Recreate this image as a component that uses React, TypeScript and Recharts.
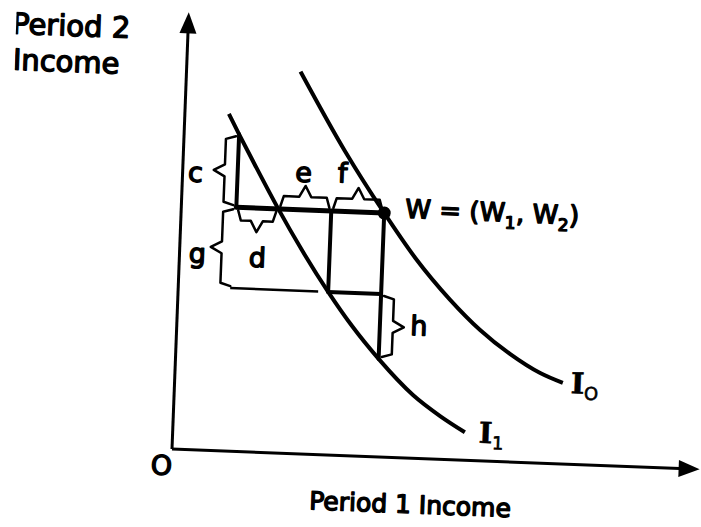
import { LineChart, Line, XAxis, YAxis, ReferenceLine, ReferenceDot } from 'recharts'

// axis extents (income units)
const X_MAX = 528
const Y_MAX = 437

// endowment W = (W1, W2)
const W1 = 203
const W2 = 244

// indifference curves, period 1 income vs period 2 income
const I0_CURVE = [
  { x: 114, y: 382 }, { x: 161, y: 305 }, { x: 203, y: 244 }, { x: 236, y: 200 },
  { x: 272, y: 160 }, { x: 303, y: 131 }, { x: 334, y: 108 }, { x: 365, y: 90 },
  { x: 388, y: 81 },
]
const I1_CURVE = [
  { x: 44, y: 337 }, { x: 55, y: 317 }, { x: 72, y: 287 }, { x: 97, y: 244 },
  { x: 122, y: 204 }, { x: 150, y: 163 }, { x: 175, y: 130 }, { x: 203, y: 98 },
  { x: 239, y: 63 }, { x: 267, y: 43 }, { x: 292, y: 28 },
]

// construction lines between the two curves
const X_LEFT = 55
const X_CROSS = 97
const X_MID = 150
const Y_TOP = 317
const Y_MID = 163
const Y_LOW = 98
const G_ARM_END = 140

const ENDOWMENT_LINE = [{ x: X_LEFT, y: W2 }, { x: W1, y: W2 }]
const C_LINE = [{ x: X_LEFT, y: W2 }, { x: X_LEFT, y: Y_TOP }]
const MID_LINE = [{ x: X_MID, y: W2 }, { x: X_MID, y: Y_MID }]
const LOW_LINE = [{ x: X_MID, y: Y_MID }, { x: W1, y: Y_MID }]
const RIGHT_LINE = [{ x: W1, y: W2 }, { x: W1, y: Y_LOW }]

type Side = 'left' | 'right' | 'up' | 'down'
const BRACES: { key: string; from: [number, number]; to: [number, number]; side: Side }[] = [
  { key: 'c', from: [X_LEFT, W2], to: [X_LEFT, Y_TOP], side: 'left' },
  { key: 'd', from: [X_LEFT, W2], to: [X_CROSS, W2], side: 'down' },
  { key: 'e', from: [X_CROSS, W2], to: [X_MID, W2], side: 'up' },
  { key: 'f', from: [X_MID, W2], to: [W1, W2], side: 'up' },
  { key: 'g', from: [X_LEFT, W2], to: [X_LEFT, Y_MID], side: 'left' },
  { key: 'h', from: [W1, Y_MID], to: [W1, Y_LOW], side: 'right' },
]

const INK = '#000'
const SANS = 'DejaVu Sans'
const SERIF = 'DejaVu Serif'

const DIRS: Record<Side, [number, number]> = {
  left: [-1, 0], right: [1, 0], up: [0, -1], down: [0, 1],
}

const braceShape = (side: Side) => (p: any) => {
  const { x1, y1, x2, y2 } = p
  const len = Math.hypot(x2 - x1, y2 - y1)
  const tx = (x2 - x1) / len
  const ty = (y2 - y1) / len
  const [nx, ny] = DIRS[side]
  const mx = (x1 + x2) / 2
  const my = (y1 + y2) / 2
  const o1 = 13, o2 = 24, w = 6, gap = 3
  const pts = [
    [x1 + nx * gap + tx * 2, y1 + ny * gap + ty * 2],
    [x1 + nx * o1 + tx * 5, y1 + ny * o1 + ty * 5],
    [mx - tx * w + nx * o1, my - ty * w + ny * o1],
    [mx + nx * o2, my + ny * o2],
    [mx + tx * w + nx * o1, my + ty * w + ny * o1],
    [x2 + nx * o1 - tx * 5, y2 + ny * o1 - ty * 5],
    [x2 + nx * gap - tx * 2, y2 + ny * gap - ty * 2],
  ]
  return (
    <polyline
      points={pts.map((q) => q.join(',')).join(' ')}
      fill="none"
      stroke={INK}
      strokeWidth={2.5}
      strokeLinejoin="round"
      strokeLinecap="round"
    />
  )
}

const arrowShape = (p: any) => {
  const { x1, y1, x2, y2 } = p
  const len = Math.hypot(x2 - x1, y2 - y1)
  const ux = (x2 - x1) / len
  const uy = (y2 - y1) / len
  const head = 21, half = 8.5
  const bx = x2 - ux * head
  const by = y2 - uy * head
  return (
    <g>
      <line x1={x1} y1={y1} x2={bx + ux} y2={by + uy} stroke={INK} strokeWidth={3} />
      <polygon
        points={`${x2},${y2} ${bx - uy * half},${by + ux * half} ${bx + uy * half},${by - ux * half}`}
        fill={INK}
      />
    </g>
  )
}

// regular face with an outline gives the medium weight of the lettering
const textStyle = {
  fontFamily: SANS, fontWeight: 400, fontSize: 27, fill: INK,
  stroke: INK, strokeWidth: 1.4, strokeLinejoin: 'round' as const,
}

// text annotations, placed in chart units
const LABELS: { x: number; y: number; render: (cx: number, cy: number) => any }[] = [
  { x: -176, y: 409, render: (cx, cy) => <text x={cx} y={cy} style={{ ...textStyle, fontSize: 29 }}>Period 2</text> },
  { x: -174, y: 373, render: (cx, cy) => <text x={cx} y={cy} style={{ ...textStyle, fontSize: 29 }}>Income</text> },
  { x: 240, y: -55, render: (cx, cy) => <text x={cx} y={cy} textAnchor="middle" style={{ ...textStyle, fontSize: 25 }}>Period 1 Income</text> },
  { x: -10, y: -26, render: (cx, cy) => <text x={cx} y={cy} textAnchor="middle" style={textStyle}>O</text> },
  { x: 13, y: 268, render: (cx, cy) => <text x={cx} y={cy} textAnchor="middle" style={textStyle}>c</text> },
  { x: 78, y: 185, render: (cx, cy) => <text x={cx} y={cy} textAnchor="middle" style={textStyle}>d</text> },
  { x: 121, y: 272, render: (cx, cy) => <text x={cx} y={cy} textAnchor="middle" style={textStyle}>e</text> },
  { x: 160, y: 273, render: (cx, cy) => <text x={cx} y={cy} textAnchor="middle" style={textStyle}>f</text> },
  { x: 18, y: 187, render: (cx, cy) => <text x={cx} y={cy} textAnchor="middle" style={textStyle}>g</text> },
  { x: 242, y: 123, render: (cx, cy) => <text x={cx} y={cy} textAnchor="middle" style={textStyle}>h</text> },
  {
    x: 224, y: 240, render: (cx, cy) => (
      <text x={cx} y={cy} style={{ ...textStyle, fontSize: 26 }}>
        <tspan>W = (W</tspan>
        <tspan dy={7} fontSize={17}>1</tspan>
        <tspan dy={-7}>, W</tspan>
        <tspan dy={7} fontSize={17}>2</tspan>
        <tspan dy={-7}>)</tspan>
      </text>
    ),
  },
  {
    x: 396, y: 71, render: (cx, cy) => (
      <text x={cx} y={cy} style={{ ...textStyle, fontFamily: SERIF, fontWeight: 700, fontSize: 29, strokeWidth: 0.6 }}>
        <tspan>I</tspan>
        <tspan dy={6} fontFamily={SANS} fontWeight={400} fontSize={18}>O</tspan>
      </text>
    ),
  },
  {
    x: 306, y: 18, render: (cx, cy) => (
      <text x={cx} y={cy} style={{ ...textStyle, fontFamily: SERIF, fontWeight: 700, fontSize: 29, strokeWidth: 0.6 }}>
        <tspan>I</tspan>
        <tspan dy={6} fontFamily={SANS} fontWeight={400} fontSize={18}>1</tspan>
      </text>
    ),
  },
]

const segment = (pts: { x: number; y: number }[], width: number, key: string) => (
  <Line
    key={key}
    data={pts}
    dataKey="y"
    type="linear"
    stroke={INK}
    strokeWidth={width}
    strokeLinecap="round"
    dot={false}
    isAnimationActive={false}
  />
)

export default function App() {
  return (
    <div
      style={{
        position: 'absolute',
        left: 0,
        top: 0,
        width: 701,
        height: 527,
        background: '#fff',
        transform: 'rotate(2.2deg)',
        transformOrigin: '172px 449px',
      }}
    >
      <LineChart width={701} height={527} margin={{ top: 12, right: 1, bottom: 78, left: 172 }}>
        <XAxis dataKey="x" type="number" domain={[0, X_MAX]} hide />
        <YAxis type="number" domain={[0, Y_MAX]} hide />

        <ReferenceLine segment={[{ x: 0, y: 0 }, { x: X_MAX, y: 0 }]} shape={arrowShape} ifOverflow="visible" />
        <ReferenceLine segment={[{ x: 0, y: 0 }, { x: 0, y: Y_MAX }]} shape={arrowShape} ifOverflow="visible" />

        <Line data={I0_CURVE} dataKey="y" type="monotone" stroke={INK} strokeWidth={4}
          dot={false} isAnimationActive={false} />
        <Line data={I1_CURVE} dataKey="y" type="monotone" stroke={INK} strokeWidth={4}
          dot={false} isAnimationActive={false} />

        {segment(ENDOWMENT_LINE, 5, 'w')}
        {segment(C_LINE, 4, 'c')}
        {segment(MID_LINE, 4, 'm')}
        {segment(LOW_LINE, 4, 'l')}
        {segment(RIGHT_LINE, 4, 'r')}

        {BRACES.map((b) => (
          <ReferenceLine
            key={b.key}
            segment={[{ x: b.from[0], y: b.from[1] }, { x: b.to[0], y: b.to[1] }]}
            shape={braceShape(b.side)}
            ifOverflow="visible"
          />
        ))}
        {/* lower arm of the g bracket runs on toward I1 */}
        <ReferenceLine
          segment={[{ x: X_LEFT - 3, y: Y_MID }, { x: G_ARM_END, y: Y_MID }]}
          stroke={INK}
          strokeWidth={2.5}
          ifOverflow="visible"
        />

        <ReferenceDot x={W1} y={W2} r={6.5} fill={INK} stroke="none" ifOverflow="visible" />

        {LABELS.map((l, i) => (
          <ReferenceDot
            key={i}
            x={l.x}
            y={l.y}
            r={0}
            ifOverflow="visible"
            shape={(p: any) => l.render(p.cx, p.cy)}
          />
        ))}
      </LineChart>
    </div>
  )
}
